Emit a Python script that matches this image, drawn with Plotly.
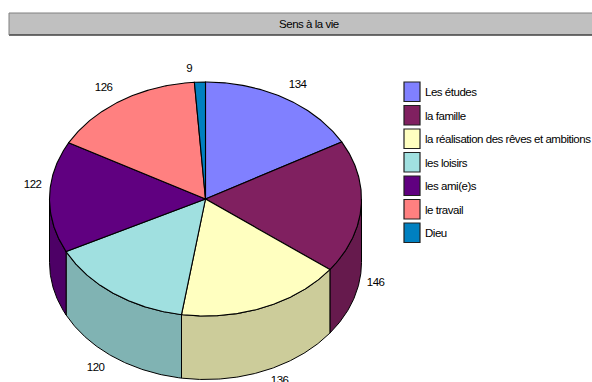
import numpy as np
import plotly.graph_objects as go

categories = ["Les études", "la famille", "la réalisation des rêves et ambitions",
              "les loisirs", "les ami(e)s", "le travail", "Dieu"]
values = [134, 146, 136, 120, 122, 126, 9]
top_colors = ["#8080FF", "#802060", "#FFFFC0", "#A0E0E0", "#600080", "#FF8080", "#0080C0"]
side_colors = ["#6666CC", "#661A4D", "#CCCC9A", "#80B3B3", "#4D0066", "#CC6666", "#006699"]
title_text = "Sens à la vie"

# Pixel-based plotting area and tilted-disc geometry
W, H = 592, 382
CX, CY, RX, RY, DEPTH = 205.5, 199, 156, 117, 63.5
FONT = "Liberation Sans"
FONT_SIZE = 11.5
label_xy = [(298, 84), (375, 282), (279, 380), (95, 367), (32, 184), (103, 87), (189, 68)]


def rim(a0, a1, dz=0.0):
    """Points on the disc edge between two clockwise-from-north angles (degrees)."""
    n = max(2, int(abs(a1 - a0)) * 2)
    t = np.radians(np.linspace(a0, a1, n))
    return CX + RX * np.sin(t), CY - RY * np.cos(t) + dz


fig = go.Figure()
edges = np.concatenate([[0], np.cumsum(values)]) / sum(values) * 360

# Visible outer wall: only the front half of the disc
for i, color in enumerate(side_colors):
    a0, a1 = max(edges[i], 90), min(edges[i + 1], 270)
    if a1 <= a0:
        continue
    x0, y0 = rim(a0, a1)
    x1, y1 = rim(a1, a0, DEPTH)
    fig.add_trace(go.Scatter(
        x=np.concatenate([x0, x1, x0[:1]]), y=np.concatenate([y0, y1, y0[:1]]),
        mode="lines", fill="toself", fillcolor=color,
        line=dict(color="black", width=1), hoverinfo="skip", showlegend=False))

# Top face of every slice
for i, color in enumerate(top_colors):
    x, y = rim(edges[i], edges[i + 1])
    fig.add_trace(go.Scatter(
        x=np.concatenate([[CX], x, [CX]]), y=np.concatenate([[CY], y, [CY]]),
        mode="lines", fill="toself", fillcolor=color, name=categories[i],
        line=dict(color="black", width=1.1), hoverinfo="skip", showlegend=False))

shapes = [
    dict(type="rect", x0=9, x1=W + 2, y0=13, y1=35, fillcolor="#C0C0C0", line_width=0, layer="below"),
    dict(type="line", x0=9, x1=W, y0=13, y1=13, line=dict(color="#808080", width=1)),
    dict(type="line", x0=9, x1=W, y0=35, y1=35, line=dict(color="#404040", width=1.5)),
    dict(type="line", x0=9, x1=9, y0=13, y1=35, line=dict(color="#808080", width=1)),
]
annotations = [dict(x=309, y=24, text=title_text, showarrow=False,
                    font=dict(family=FONT, size=FONT_SIZE, color="black"))]

# Value labels beside the slices
for value, (lx, ly) in zip(values, label_xy):
    annotations.append(dict(x=lx, y=ly, text=str(value), showarrow=False,
                            font=dict(family=FONT, size=FONT_SIZE, color="black")))

# Hand-built legend column
row_y = np.linspace(92, 233, len(categories))
for name, color, ry in zip(categories, top_colors, row_y):
    shapes.append(dict(type="rect", x0=404, x1=420, y0=ry - 10, y1=ry + 9.5,
                       fillcolor=color, line=dict(color="#202020", width=1.2)))
    annotations.append(dict(x=422.5, y=ry, text=name, showarrow=False, xanchor="left", align="left",
                            font=dict(family=FONT, size=FONT_SIZE, color="black")))

fig.update_layout(
    width=W, height=H, margin=dict(l=0, r=0, t=0, b=0),
    paper_bgcolor="white", plot_bgcolor="white", showlegend=False,
    xaxis=dict(range=[0, W], visible=False, fixedrange=True),
    yaxis=dict(range=[H, 0], visible=False, fixedrange=True),
    shapes=shapes, annotations=annotations,
)

# Tighter tracking for all annotation text
tighten_text = (
    "var s = document.createElement('style');"
    "s.textContent = '.annotation-text { letter-spacing: -0.47px; }';"
    "document.head.appendChild(s);"
)
fig.write_html("out.html", config=dict(displayModeBar=False), post_script=tighten_text)
